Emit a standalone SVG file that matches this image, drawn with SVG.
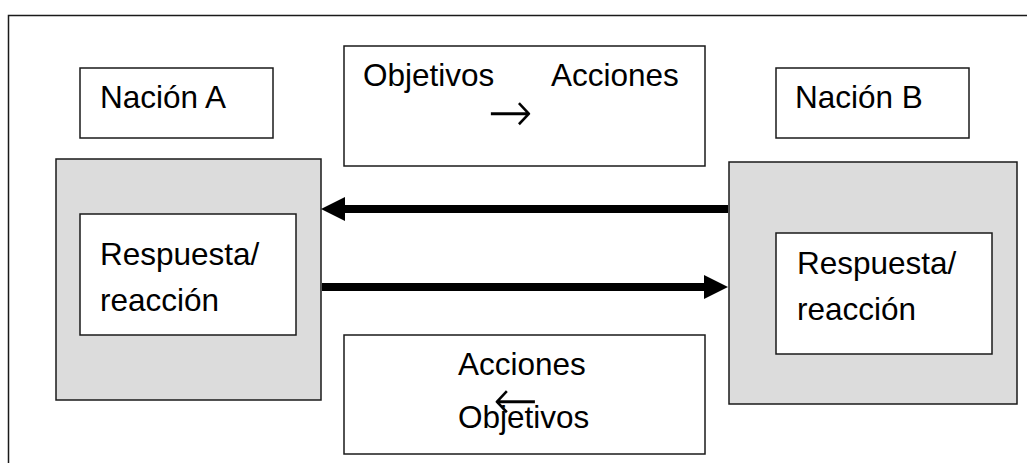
<svg xmlns="http://www.w3.org/2000/svg" width="1027" height="463" viewBox="0 0 1027 463">
<style>
  .box { fill: #ffffff; stroke: #1a1a1a; stroke-width: 1.5; }
  .gray { fill: #dcdcdc; stroke: #1a1a1a; stroke-width: 1.5; }
  .t { font-family: "Liberation Sans", Arial, sans-serif; font-size: 31.5px; fill: #000000; }
  .sym { font-family: "DejaVu Sans", sans-serif; font-size: 36px; font-weight: 200; fill: #000000; }
  .conn { stroke: #000000; stroke-width: 8; fill: none; }
</style>
<defs>
  <marker id="head" markerUnits="userSpaceOnUse" markerWidth="24" markerHeight="24" refX="0" refY="12" orient="auto" viewBox="0 0 24 24">
    <path d="M0,0 L24,12 L0,24 Z" fill="#000000"/>
  </marker>
</defs>
<rect width="1027" height="463" fill="#ffffff"/>
<g id="frame">
  <rect x="8.5" y="15.5" width="1040" height="470" fill="none" stroke="#1a1a1a" stroke-width="1.5"/>
</g>
<g id="nacion-a">
  <rect class="box" x="80" y="68" width="193" height="70"/>
  <text class="t" x="100" y="108">Nación A</text>
</g>
<g id="objetivos-acciones">
  <rect class="box" x="344" y="46" width="361" height="120"/>
  <text class="t" x="363" y="86">Objetivos</text>
  <text class="t" x="551" y="86">Acciones</text>
  <g transform="translate(488,113) scale(1,1.6)">
    <text class="sym" x="0" y="12" textLength="45" lengthAdjust="spacingAndGlyphs">→</text>
  </g>
</g>
<g id="nacion-b">
  <rect class="box" x="776" y="68" width="193" height="70"/>
  <text class="t" x="795" y="108">Nación B</text>
</g>
<g id="bloque-a">
  <rect class="gray" x="56" y="159" width="265" height="241"/>
  <rect class="box" x="80" y="214" width="216" height="121"/>
  <text class="t" x="100" y="265">Respuesta/</text>
  <text class="t" x="100" y="311">reacción</text>
</g>
<g id="bloque-b">
  <rect class="gray" x="729" y="162" width="288" height="242"/>
  <rect class="box" x="776" y="233" width="216" height="121"/>
  <text class="t" x="797" y="274">Respuesta/</text>
  <text class="t" x="797" y="320">reacción</text>
</g>
<g id="acciones-objetivos">
  <rect class="box" x="344" y="335" width="361" height="119"/>
  <text class="t" x="458" y="375">Acciones</text>
  <g transform="translate(493,401) scale(1,1.6)">
    <text class="sym" x="0" y="12" textLength="45" lengthAdjust="spacingAndGlyphs">←</text>
  </g>
  <text class="t" x="458" y="428">Objetivos</text>
</g>
<g id="connectors">
  <line class="conn" x1="728" y1="209" x2="345" y2="209" marker-end="url(#head)"/>
  <line class="conn" x1="322" y1="287" x2="704" y2="287" marker-end="url(#head)"/>
</g>
</svg>
